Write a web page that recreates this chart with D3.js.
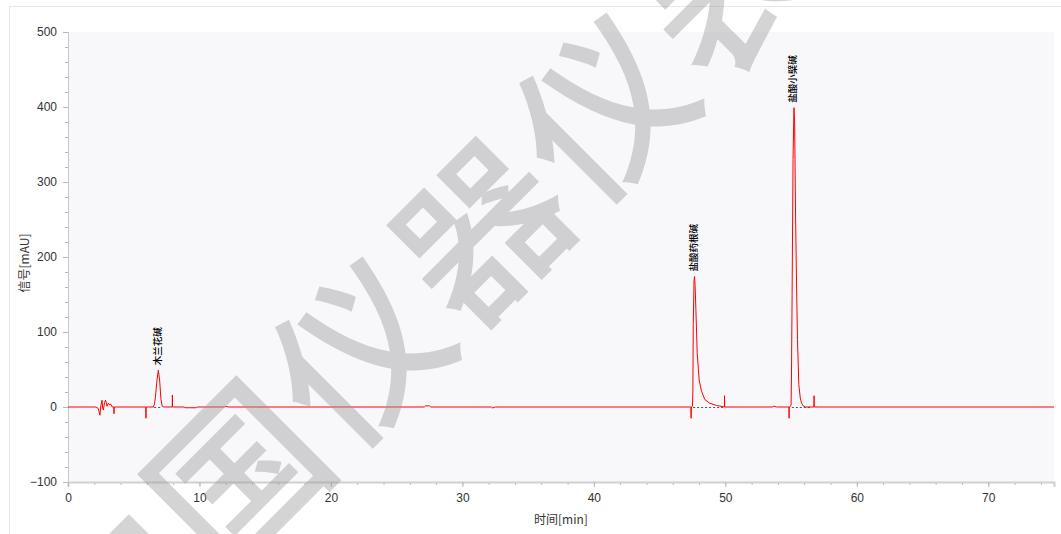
<!DOCTYPE html>
<html>
<head>
<meta charset="utf-8">
<script src="https://cdn.jsdelivr.net/npm/d3@7"></script>
<style>
  body { margin: 0; background: #fff; }
  svg { display: block; }
</style>
</head>
<body>
<svg id="chart" width="1061" height="534"></svg>
<script>
// chromatogram trace, [time min, signal mAU]
const trace = [
  [0, 0], [2.05, 0], [2.13, 0], [2.30, -2], [2.43, -11], [2.50, 2], [2.59, 9], [2.64, -2], [2.69, -4],
  [2.78, 6], [2.86, 9], [2.97, 1], [3.07, 5], [3.15, 3], [3.24, 4], [3.37, 0], [3.49, 0],
  [3.50, -9], [3.52, 0],
  [5.92, 0], [5.93, -15], [5.94, 0],
  [6.49, 0], [6.58, 4], [6.65, 13], [6.77, 36], [6.87, 49], [6.97, 36], [7.07, 10], [7.17, 1], [7.30, 0],
  [7.93, 0], [7.94, 16], [7.95, 0],
  [8.85, 0], [8.89, -1], [9.75, -1], [9.80, 0],
  [11.9, 0], [12.0, 0.8], [12.2, 0],
  [27.1, 0], [27.2, 1.5], [27.5, 1.5], [27.6, 0],
  [32.2, 0], [32.3, -1.2], [32.5, 0],
  [47.38, 0], [47.40, -15], [47.41, 0], [47.50, 1], [47.53, 20], [47.56, 110], [47.62, 168],
  [47.66, 174], [47.70, 162], [47.76, 130], [47.86, 72], [48.01, 36], [48.19, 21], [48.44, 10],
  [48.82, 5], [49.33, 2], [49.83, 0.5], [49.93, 0], [49.94, 15], [49.95, 0],
  [53.6, 0], [53.7, 1.2], [53.9, 0],
  [54.84, 0], [54.85, -15], [54.86, 0], [55.00, 2], [55.03, 40], [55.08, 150], [55.15, 330],
  [55.22, 399], [55.27, 380], [55.34, 260], [55.42, 160], [55.49, 90], [55.59, 30], [55.70, 12],
  [55.80, 5], [55.95, 1], [56.10, 0],
  [56.74, 0], [56.75, 15], [56.76, 0],
  [75, 0]
];

// peak labels
const peakNames = ['木兰花碱', '盐酸药根碱', '盐酸小檗碱'];
const peakTimes = [6.87, 47.66, 55.22];
const peakHeights = [49, 174, 399];
// integration baselines [start, end]
const peakBase = [[6.55, 7.12], [47.55, 49.83], [55.06, 56.43]];

const yTicks = [-100, 0, 100, 200, 300, 400, 500];
const xTicks = [0, 10, 20, 30, 40, 50, 60, 70];

const watermarkChars = ['中', '国', '仪', '器', '仪', '表'];

const margin = { top: 32, left: 68 };
const plotWidth = 986;
const plotHeight = 450;

const svg = d3.select('#chart');

// outer frame
svg.append('rect')
  .attr('x', 9.5).attr('y', 6.5)
  .attr('width', 1100).attr('height', 600)
  .attr('fill', 'none')
  .attr('stroke', '#e6e6ee');

const x = d3.scaleLinear().domain([0, 75]).range([0, plotWidth]);
const y = d3.scaleLinear().domain([-100, 500]).range([plotHeight, 0]);

const g = svg.append('g')
  .attr('transform', 'translate(' + margin.left + ',' + margin.top + ')');

g.append('rect')
  .attr('width', plotWidth)
  .attr('height', plotHeight)
  .attr('fill', '#f8f8fb');

// minor ticks
const yMinor = g.append('g')
  .call(d3.axisLeft(y).tickValues(d3.range(-100, 501, 20)).tickSize(3).tickFormat(''));
const xMinor = g.append('g')
  .attr('transform', 'translate(0,' + plotHeight + ')')
  .call(d3.axisBottom(x).tickValues(d3.range(0, 76, 2)).tickSize(3).tickFormat(''));

const yAxis = g.append('g')
  .call(d3.axisLeft(y).tickValues(yTicks).tickSize(5).tickPadding(6));
const xAxis = g.append('g')
  .attr('transform', 'translate(0,' + plotHeight + ')')
  .call(d3.axisBottom(x).tickValues(xTicks).tickSize(5).tickPadding(6));

[yMinor, xMinor, yAxis, xAxis].forEach(a => {
  a.selectAll('.tick line').attr('stroke', '#b8b8b8');
  a.select('.domain').attr('stroke', '#c8c8c8');
});
xAxis.select('.domain').attr('stroke', '#d0d0d0').attr('stroke-width', 2);
[yAxis, xAxis].forEach(a => {
  a.selectAll('text')
    .attr('font-family', 'Liberation Sans, Arial, sans-serif')
    .attr('font-size', 12)
    .attr('fill', '#333');
});

// integration baselines
g.selectAll('.base')
  .data(peakBase)
  .enter()
  .append('line')
  .attr('class', 'base')
  .attr('x1', d => x(d[0]))
  .attr('x2', d => x(d[1]))
  .attr('y1', y(0) + 0.5)
  .attr('y2', y(0) + 0.5)
  .attr('stroke', '#555')
  .attr('stroke-width', 1)
  .attr('stroke-dasharray', '2,2');

const line = d3.line()
  .x(d => x(d[0]))
  .y(d => y(d[1]));

g.append('path')
  .datum(trace)
  .attr('d', line)
  .attr('fill', 'none')
  .attr('stroke', '#ff0000')
  .attr('stroke-width', 1);

// peak labels
g.selectAll('.peak-label')
  .data(peakNames)
  .enter()
  .append('text')
  .attr('class', 'peak-label')
  .attr('transform', (d, i) => 'translate(' + (x(peakTimes[i]) - 1) + ',' + (y(peakHeights[i]) - 5) + ') rotate(-90)')
  .attr('dy', '0.35em')
  .attr('font-family', 'Noto Sans CJK SC, sans-serif')
  .attr('font-size', 9.5)
  .attr('font-weight', 500)
  .attr('fill', '#000')
  .text(d => d);

// axis titles
svg.append('text')
  .attr('x', margin.left + x(37.5))
  .attr('y', 524)
  .attr('text-anchor', 'middle')
  .attr('font-family', 'Noto Sans CJK SC, sans-serif')
  .attr('font-size', 12)
  .attr('fill', '#333')
  .text('时间[min]');

svg.append('text')
  .attr('transform', 'translate(29,' + (margin.top + y(200) + 6) + ') rotate(-90)')
  .attr('text-anchor', 'middle')
  .attr('font-family', 'Noto Sans CJK SC, sans-serif')
  .attr('font-size', 12)
  .attr('fill', '#333')
  .text('信号[mAU]');

// watermark
const wm = svg.append('g');
watermarkChars.forEach((c, i) => {
  const cx = 108 + i * 122;
  const cy = 590 - i * 122;
  wm.append('text')
    .attr('transform', 'translate(' + cx + ',' + cy + ') rotate(-45)')
    .attr('text-anchor', 'middle')
    .attr('dominant-baseline', 'central')
    .attr('font-family', 'Noto Sans CJK SC, sans-serif')
    .attr('font-weight', 500)
    .attr('font-size', 168)
    .attr('fill', '#999')
    .attr('fill-opacity', 0.42)
    .text(c);
});
</script>
</body>
</html>
